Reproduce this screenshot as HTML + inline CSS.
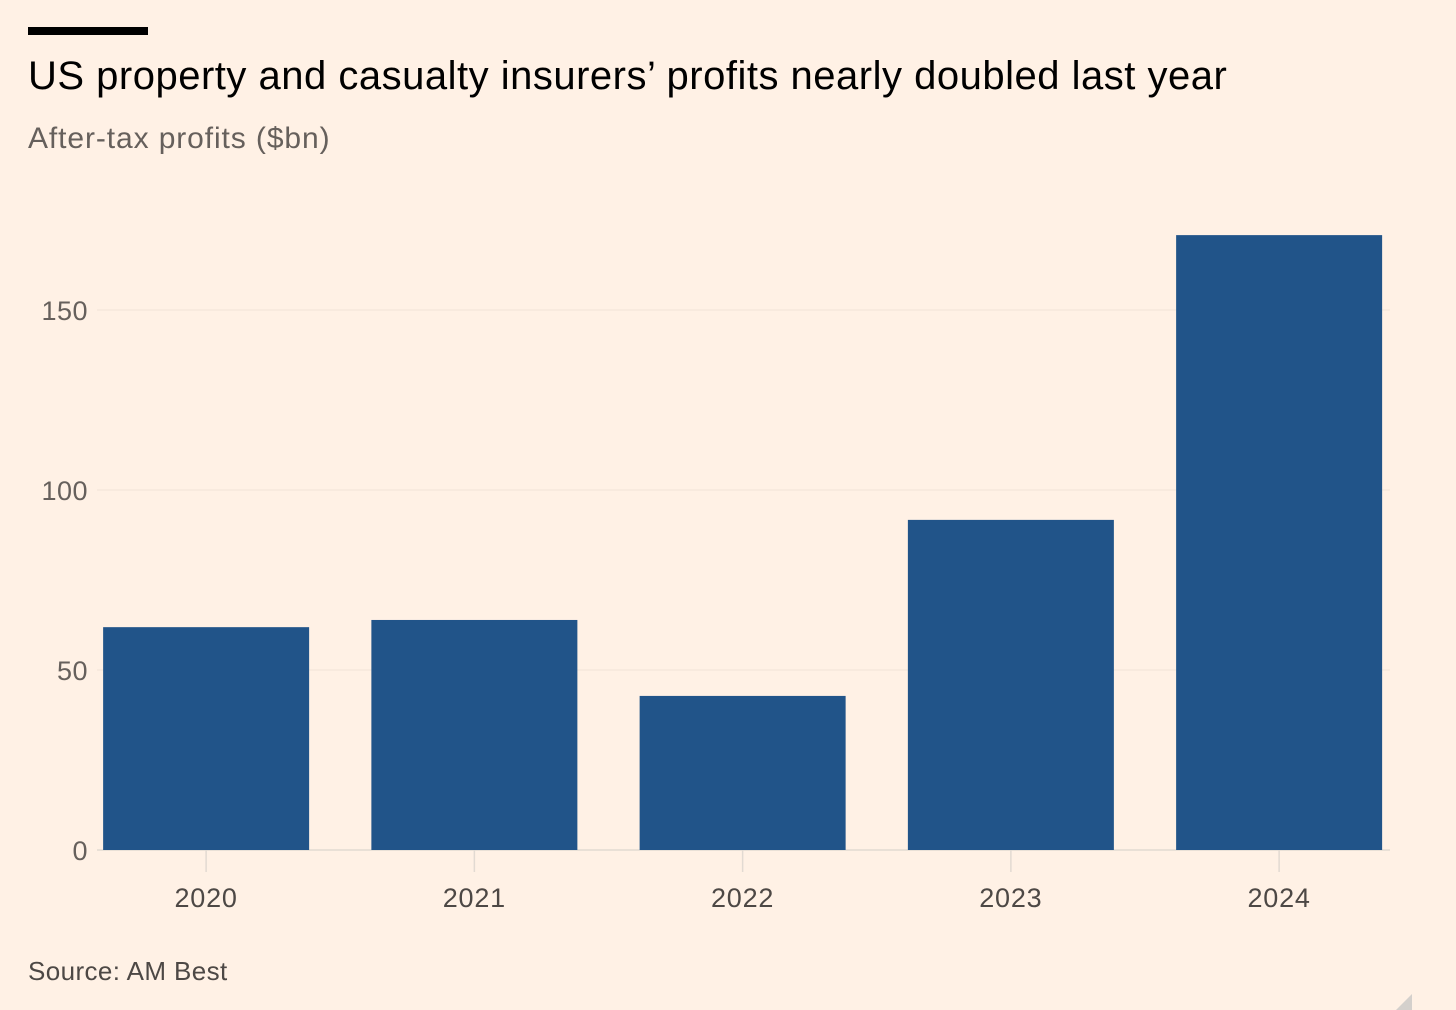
<!DOCTYPE html>
<html><head><meta charset="utf-8">
<style>
html,body{margin:0;padding:0;background:#fff1e5;}
body{width:1456px;height:1010px;overflow:hidden;position:relative;font-family:"Liberation Sans",sans-serif;}
.bar-top{position:absolute;left:28px;top:27px;width:120px;height:8px;background:#000;}
h1{position:absolute;left:28px;top:54px;margin:0;font-weight:normal;font-size:40px;color:#000;letter-spacing:0.5px;white-space:nowrap;}
.sub{position:absolute;left:28px;top:122px;font-size:30px;color:#66605c;letter-spacing:0.9px;}
.src{position:absolute;left:28px;top:956px;font-size:26px;color:#4d4845;letter-spacing:0.4px;}
svg{position:absolute;left:0;top:0;}
</style></head><body>
<div class="bar-top"></div>
<h1>US property and casualty insurers’ profits nearly doubled last year</h1>
<div class="sub">After-tax profits ($bn)</div>
<div class="src">Source: AM Best</div>
<svg id="chart" width="1456" height="1010"></svg>
<svg width="1456" height="1010" style="pointer-events:none"><polygon points="1396,1010 1412,994 1412,1010" fill="#d4d0cc"/></svg>
<script>
const categories = ["2020","2021","2022","2023","2024"];
const values = [61.9, 63.9, 42.8, 91.7, 170.8];
const yTicks = [0, 50, 100, 150];

const NS="http://www.w3.org/2000/svg";
const svg=document.getElementById('chart');
const y0=850, pxPerUnit=3.6;
const yScale=v=>y0-v*pxPerUnit;
const bandStart=72, bandStep=268.25, barW=206;
const xCenter=i=>bandStart+bandStep*(i+0.5);
function mk(tag,attrs){const e=document.createElementNS(NS,tag);for(const k in attrs)e.setAttribute(k,attrs[k]);svg.appendChild(e);return e;}

yTicks.forEach(t=>{
  const g=mk('line',{x1:97,x2:1390,y1:yScale(t),y2:yScale(t),stroke:t===0?'#e2dad2':'#f0e4d8','stroke-width':t===0?1.5:1});
  
  
  const tx=mk('text',{x:88,y:yScale(t)+10,'text-anchor':'end','font-size':27,'letter-spacing':0.5,fill:'#66605c','font-family':'Liberation Sans, sans-serif'});
  tx.textContent=t;
  
  
});

categories.forEach((c,i)=>{
  const cx=xCenter(i);
  const r=mk('rect',{x:cx-barW/2,y:yScale(values[i]),width:barW,height:values[i]*pxPerUnit,fill:'#215489'});
  
  
  const tk=mk('line',{x1:cx,x2:cx,y1:y0,y2:y0+22,stroke:'#e2dad2','stroke-width':1.5});
  
  
  const tx=mk('text',{x:cx,y:907,'text-anchor':'middle','font-size':27,'letter-spacing':0.8,fill:'#4d4845','font-family':'Liberation Sans, sans-serif'});
  tx.textContent=c;
  
  
});
</script>
</body></html>
